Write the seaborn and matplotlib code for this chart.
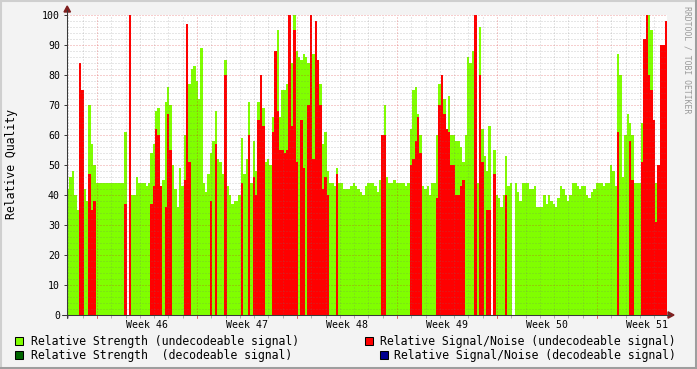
import numpy as np
import pandas as pd
import matplotlib
matplotlib.use("Agg")
import matplotlib.pyplot as plt
import seaborn as sns
from matplotlib.patches import Rectangle, Polygon
from matplotlib.lines import Line2D
from matplotlib.transforms import blended_transform_factory

# ---------------- data (4-hour samples) ----------------
start_day = -2.1          # days relative to the start of week 46
bin_hours = 4
week_labels = ["Week 46", "Week 47", "Week 48", "Week 49", "Week 50", "Week 51"]

strength_undec = [
    42, 46, 48, 40, 35, 65, 40, 42, 38, 70, 57, 50,
    44, 44, 44, 44, 44, 44, 44, 44, 44, 44, 44, 44,
    61, 0, 40, 40, 40, 46, 44, 44, 44, 43, 44, 54,
    57, 68, 69, 40, 45, 71, 76, 70, 50, 42, 36, 49,
    43, 60, 73, 77, 82, 83, 78, 72, 89, 44, 41, 47,
    54, 58, 68, 52, 51, 47, 85, 43, 40, 37, 38, 38,
    40, 59, 47, 52, 71, 44, 58, 48, 71, 70, 69, 51,
    52, 50, 66, 67, 95, 66, 75, 75, 77, 80, 84, 100,
    88, 86, 85, 87, 86, 84, 95, 87, 83, 76, 77, 57,
    61, 48, 44, 44, 43, 49, 44, 44, 42, 42, 42, 43,
    44, 43, 42, 41, 40, 43, 44, 44, 44, 43, 41, 45,
    44, 70, 46, 44, 44, 45, 44, 44, 44, 44, 43, 44,
    62, 75, 76, 67, 60, 43, 42, 43, 40, 44, 44, 60,
    77, 78, 72, 62, 73, 60, 60, 58, 58, 56, 51, 60,
    86, 84, 88, 0, 44, 96, 62, 53, 48, 63, 0, 55,
    40, 39, 36, 40, 53, 43, 44, 0, 44, 41, 38, 44,
    44, 44, 42, 42, 43, 36, 36, 36, 40, 37, 40, 38,
    37, 36, 39, 43, 42, 40, 38, 40, 44, 44, 43, 42,
    43, 43, 40, 39, 41, 42, 44, 44, 44, 43, 44, 44,
    50, 48, 43, 87, 80, 46, 60, 67, 64, 60, 44, 44,
    44, 64, 70, 92, 100, 95, 60, 44, 46, 44, 44, 44,
]

snr_undec = [
    0, 0, 0, 0, 0, 84, 75, 0, 0, 47, 35, 38,
    0, 0, 0, 0, 0, 0, 0, 0, 0, 0, 0, 0,
    37, 0, 100, 0, 0, 0, 0, 0, 0, 0, 0, 37,
    43, 62, 60, 43, 0, 36, 67, 55, 0, 0, 0, 0,
    0, 45, 97, 51, 0, 0, 0, 0, 0, 0, 0, 0,
    38, 0, 57, 0, 0, 0, 80, 0, 0, 0, 0, 0,
    0, 44, 0, 0, 60, 0, 46, 40, 65, 80, 63, 0,
    0, 0, 61, 88, 68, 55, 55, 54, 55, 100, 63, 95,
    51, 0, 65, 49, 0, 70, 100, 52, 98, 85, 70, 42,
    46, 40, 0, 0, 0, 47, 0, 0, 0, 0, 0, 0,
    0, 0, 0, 0, 0, 0, 0, 0, 0, 0, 0, 0,
    60, 60, 0, 0, 0, 0, 0, 0, 0, 0, 0, 0,
    50, 52, 58, 66, 54, 0, 0, 0, 0, 0, 0, 39,
    70, 80, 67, 62, 61, 50, 50, 40, 40, 43, 45, 0,
    0, 0, 0, 100, 0, 80, 51, 0, 35, 35, 0, 47,
    0, 0, 0, 0, 40, 0, 0, 0, 0, 0, 0, 0,
    0, 0, 0, 0, 0, 0, 0, 0, 0, 0, 0, 0,
    0, 0, 0, 0, 0, 0, 0, 0, 0, 0, 0, 0,
    0, 0, 0, 0, 0, 0, 0, 0, 0, 0, 0, 0,
    0, 0, 0, 61, 0, 0, 0, 0, 58, 45, 0, 0,
    0, 51, 92, 100, 80, 75, 65, 31, 50, 90, 90, 98,
]

legend_labels = [
    "Relative Strength (undecodeable signal)",
    "Relative Strength  (decodeable signal)",
    "Relative Signal/Noise (undecodeable signal)",
    "Relative Signal/Noise (decodeable signal)",
]

# ---------------- style ----------------
GREEN = "#80FF00"
DKGREEN = "#006600"
RED = "#FF0000"
BLUE = "#000090"
BACK = "#F3F3F3"

W, H = 697, 369
sns.set_theme(style="white")
plt.rcParams["font.family"] = ["DejaVu Sans Mono"]

fig = plt.figure(figsize=(W / 100, H / 100), dpi=100, facecolor=BACK)


def fx(px):
    return px / W


def fy(py):
    return 1 - py / H


ax = fig.add_axes([fx(67), fy(315), fx(667) - fx(67), fy(15) - fy(315)])
ax.set_facecolor("white")

n = len(strength_undec)
t = start_day + (np.arange(n) + 0.5) * bin_hours / 24.0
df = pd.DataFrame({"t": t, "strength": strength_undec, "snr": snr_undec})

sns.barplot(data=df, x="t", y="strength", native_scale=True, width=1.0,
            color=GREEN, saturation=1, errorbar=None, linewidth=0,
            antialiased=False, ax=ax)
sns.barplot(data=df, x="t", y="snr", native_scale=True, width=1.0,
            color=RED, saturation=1, errorbar=None, linewidth=0,
            antialiased=False, ax=ax)

x0 = start_day
x1 = start_day + n * bin_hours / 24.0
ax.set_xlim(x0, x1)
ax.set_ylim(0, 100)
for s in ax.spines.values():
    s.set_visible(False)

# grid (drawn above data, like rrdtool)
minor_c = (0.45, 0.45, 0.45, 0.35)
major_c = (0.85, 0.1, 0.1, 0.42)
dots = (0, (1, 2))
days = list(range(int(np.ceil(x0)), int(np.floor(x1)) + 1))
weeks = [d for d in days if d % 7 == 0]
for d in days:
    if d % 7 == 0:
        continue
    ax.axvline(d, color=minor_c, lw=0.72, ls=dots, zorder=5)
for v in range(2, 100, 2):
    if v % 10 == 0:
        continue
    ax.axhline(v, color=minor_c, lw=0.72, ls=dots, zorder=5)
for d in weeks:
    ax.axvline(d, color=major_c, lw=0.72, ls=dots, zorder=6)
for v in range(10, 101, 10):
    ax.axhline(v, color=major_c, lw=0.72, ls=dots, zorder=6)

# ticks and labels
ax.set_yticks(range(0, 101, 10))
ax.set_yticklabels([str(v) for v in range(0, 101, 10)])
week_mids = [3.5 + 7 * k for k in range(len(week_labels))]
ax.set_xticks(week_mids)
ax.set_xticklabels(week_labels)
ax.set_xticks([d for d in days if d % 7 != 0], minor=True)
ax.tick_params(axis="y", which="major", length=2.2, width=0.72, color="#404040",
               pad=2.8, labelsize=7.1, labelcolor="black", left=True)
ax.tick_params(axis="x", which="major", length=0, pad=3.4, labelsize=7.1,
               labelcolor="black", bottom=True)
ax.tick_params(axis="x", which="minor", length=1.8, width=0.72, color="#B0B0B0",
               bottom=True)
ax.set_xlabel("")
ax.set_ylabel("")

# red week ticks below the axis
btr = blended_transform_factory(ax.transData, ax.transAxes)
for d in weeks:
    ax.add_line(Line2D([d, d], [0, -3.0 / 300], color="#E06060", lw=0.72,
                       transform=btr, clip_on=False))

# axes lines with arrows
AXC = "#3a3a3a"
ARR = "#7F1F1F"
fig.add_artist(Line2D([fx(67), fx(67)], [fy(318), fy(10)], color=AXC, lw=0.75,
                      transform=fig.transFigure))
fig.add_artist(Line2D([fx(62), fx(670)], [fy(315), fy(315)], color=AXC, lw=0.75,
                      transform=fig.transFigure))
fig.add_artist(Polygon([[fx(64), fy(12)], [fx(70.5), fy(12)], [fx(67.2), fy(6)]],
                       closed=True, color=ARR, transform=fig.transFigure))
fig.add_artist(Polygon([[fx(668), fy(311.8)], [fx(668), fy(318.2)], [fx(674), fy(315)]],
                       closed=True, color=ARR, transform=fig.transFigure))

# y axis title
fig.text(fx(12), fy(164), "Relative Quality", rotation=90, ha="center",
         va="center", fontsize=8.3, color="black")

# watermark
fig.text(fx(686.5), fy(60), "RRDTOOL / TOBI OETIKER", rotation=270, ha="center",
         va="center", fontsize=5.9, color="#9A9A9A")

# legend
entries = [
    (15, 336.5, 30.5, 341, GREEN, legend_labels[0]),
    (15, 350.5, 30.5, 355, DKGREEN, legend_labels[1]),
    (365, 336.5, 380.5, 341, RED, legend_labels[2]),
    (379.5, 350.5, 394.5, 355, BLUE, legend_labels[3]),
]
for bx, by, tx, ty, col, lab in entries:
    fig.add_artist(Rectangle((fx(bx), fy(by + 8.5)), 8 / W, 8.5 / H,
                             facecolor=col, edgecolor="black", lw=0.75,
                             transform=fig.transFigure))
    fig.text(fx(tx), fy(ty), lab, ha="left", va="center", fontsize=8.3,
             color="black")

# frame (rrdtool shade)
fig.add_artist(Line2D([0, 1], [fy(0.75), fy(0.75)], color="#CFCFCF", lw=1.5,
                      transform=fig.transFigure))
fig.add_artist(Line2D([fx(0.75), fx(0.75)], [0, 1], color="#CFCFCF", lw=1.5,
                      transform=fig.transFigure))
fig.add_artist(Line2D([0, 1], [fy(H - 1), fy(H - 1)], color="#9E9E9E", lw=2.2,
                      transform=fig.transFigure))
fig.add_artist(Line2D([fx(W - 1), fx(W - 1)], [0, 1], color="#9E9E9E", lw=2.2,
                      transform=fig.transFigure))

fig.savefig("out.png", dpi=100, facecolor=BACK)
